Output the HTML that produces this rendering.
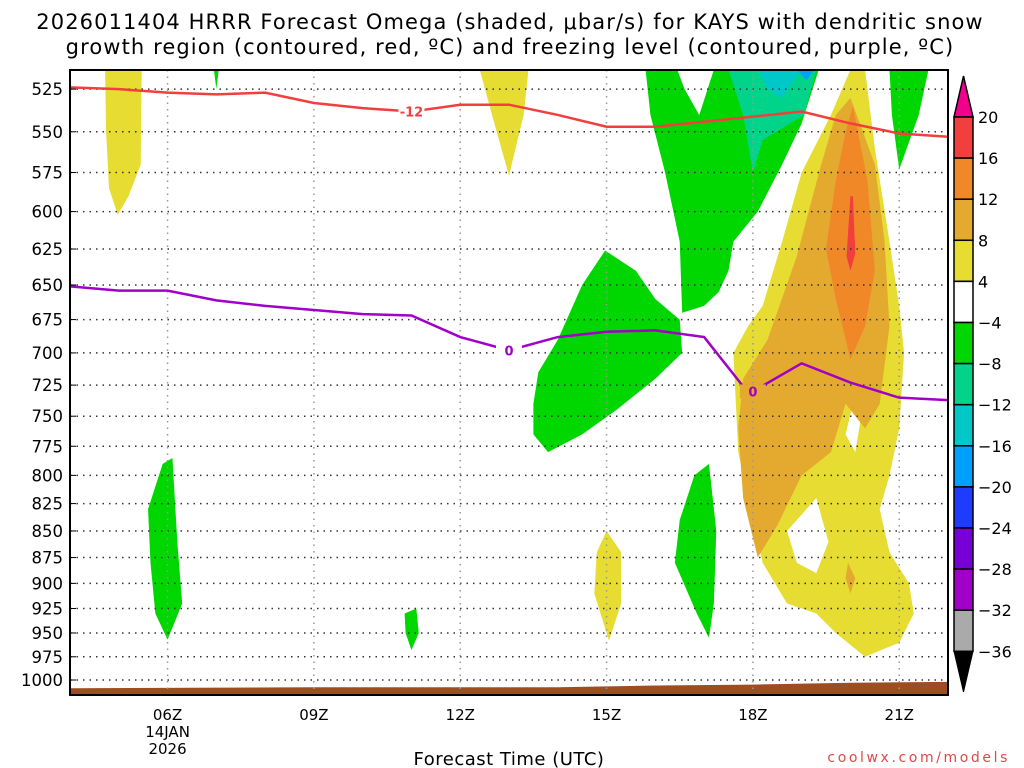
<!DOCTYPE html>
<html><head><meta charset="utf-8">
<style>
body{margin:0;background:#fff;width:1024px;height:768px;overflow:hidden}
svg{display:block;font-family:"DejaVu Sans","Liberation Sans",sans-serif}
</style></head><body>
<svg id="c" width="1024" height="768"></svg>
<script>
// ---- data ----
const pTicks=[525,550,575,600,625,650,675,700,725,750,775,800,825,850,875,900,925,950,975,1000];
const hourTicks=[6,9,12,15,18,21];
const hourLabels=["06Z","09Z","12Z","15Z","18Z","21Z"];
const lineHours=[4,5,6,7,8,9,10,11,12,13,14,15,16,17,18,19,20,21,22];
const redLineP=[524,525,527,528,527,533,536,538,534,534,540,547,547,544,541,538,545,551,553];
const purpleHours=[4,5,6,7,8,9,10,11,12,13,14,15,16,17,17.8,18,19,20,21,22];
const purpleLineP=[651,654,654,661,665,668,671,672,688,698,688,684,683,688,726,730,708,723,735,737];
const sfcHours=[4,9,14,16,18,20,22];
const sfcP=[1009,1008,1008,1006,1005,1003,1002];
const cbLevels=["20","16","12","8","4","-4","-8","-12","-16","-20","-24","-28","-32","-36"];
const cbColors=["#f33e3e","#f08828","#e4aa30","#e6dc32","#ffffff","#00d600","#00d38a","#00c8c8","#00a0ff","#1e3cff","#7800d6","#a000c8","#aaaaaa"];
// shaded regions: [color, name, [[hour,pressure],...]]
const blobs=[
["#e6dc32","yellow-top-left",[[4.72,514],[5.47,514],[5.45,570],[5.2,590],[4.98,602],[4.8,585],[4.74,550]]],
["#e6dc32","yellow-top-12z",[[12.4,514],[13.4,514],[13.3,540],[13.0,577],[12.7,545]]],
["#00d600","green-low-06z",[[5.6,830],[5.9,790],[6.1,785],[6.2,860],[6.3,920],[6.0,957],[5.75,930],[5.65,880]]],
["#00d600","green-small-11z",[[10.86,930],[11.1,925],[11.15,950],[11.0,968],[10.88,950]]],
["#00d600","green-tiny-07z",[[6.95,514],[7.05,514],[7.0,525]]],
["#00d600","green-top-17z",[[15.8,514],[19.35,514],[19.0,545],[18.6,570],[18.1,600],[17.6,620],[17.5,640],[17.3,655],[17.0,665],[16.55,670],[16.5,620],[16.2,575],[15.9,540]]],
["#ffffff","white-hole-17z",[[16.45,514],[17.2,514],[16.9,540],[16.6,525]]],
["#00d38a","teal-top",[[17.5,514],[19.3,514],[19.05,540],[18.2,555],[18.0,575],[17.8,540]]],
["#00c8c8","cyan-top",[[18.1,514],[19.0,514],[18.6,530],[18.3,525]]],
["#00a0ff","blue-top",[[18.9,514],[19.25,514],[19.1,520]]],
["#00d600","green-mid-14z",[[14.97,626],[15.6,640],[16.0,660],[16.5,675],[16.55,700],[16.0,720],[15.2,745],[14.5,765],[13.8,780],[13.5,765],[13.5,740],[13.6,715],[14.0,690],[14.5,650]]],
["#00d600","green-low-17z",[[16.8,800],[17.1,790],[17.25,850],[17.2,920],[17.1,955],[16.85,930],[16.4,880],[16.5,840]]],
["#e6dc32","yellow-low-15z",[[15.0,850],[15.3,870],[15.3,920],[15.05,958],[14.75,910],[14.8,870]]],
["#00d600","green-top-21z",[[20.8,514],[21.6,514],[21.4,540],[21.0,573],[20.85,540]]],
["#e6dc32","yellow-main",[[20.0,514],[20.3,514],[20.5,560],[20.8,620],[21.0,665],[21.1,700],[21.0,760],[20.8,800],[20.6,830],[20.8,870],[21.2,900],[21.3,930],[21.0,960],[20.3,975],[19.7,950],[19.3,930],[18.7,920],[18.2,880],[17.7,780],[17.6,700],[17.9,680],[18.2,665],[18.6,620],[19.0,575],[19.6,540]]],
["#ffffff","white-hole-low",[[18.7,850],[19.3,820],[19.55,860],[19.3,890],[18.9,880]]],
["#ffffff","white-hole-mid",[[20.05,740],[20.2,755],[20.1,780],[19.9,765]]],
["#e4aa30","light-orange-main",[[20.0,530],[20.5,570],[20.7,620],[20.8,680],[20.6,740],[20.3,760],[19.9,740],[19.6,780],[19.0,800],[18.5,845],[18.1,875],[17.8,820],[17.7,760],[17.8,720],[18.3,690],[18.9,630],[19.4,570],[19.7,540]]],
["#f08828","orange-core",[[20.05,535],[20.35,580],[20.5,640],[20.3,680],[20.0,705],[19.7,660],[19.5,625],[19.7,580],[19.9,550]]],
["#f33e3e","red-core",[[20.0,590],[20.05,590],[20.1,628],[20.0,640],[19.92,630]]],
["#e4aa30","light-orange-small",[[19.95,880],[20.1,895],[20.0,910],[19.9,895]]]
];
// ---- axes ----
const X0=70,X1=948,Y0=70,Y1=695,H0=4,H1=22;
const xs=h=>X0+(h-H0)*(X1-X0)/(H1-H0);
const ys=p=>680-917*Math.log(1000/p);
const NS="http://www.w3.org/2000/svg";
const svg=document.getElementById('c');
function mk(t,a,parent){const e=document.createElementNS(NS,t);for(const k in a)e.setAttribute(k,a[k]);(parent||svg).appendChild(e);return e;}
const defs=mk('defs',{});
const cp=mk('clipPath',{id:'pc'},defs);mk('rect',{x:X0,y:Y0,width:X1-X0,height:Y1-Y0},cp);
const g=mk('g',{'clip-path':'url(#pc)'});


blobs.forEach(b=>{
  const e=mk('polygon',{points:b[2].map(q=>xs(q[0])+','+ys(q[1])).join(' '),fill:b[0]},g);
  
  
});
let sp=sfcHours.map((h,i)=>xs(h)+','+ys(sfcP[i])).join(' ')+' '+X1+','+Y1+' '+X0+','+Y1;
const sfc=mk('polygon',{points:sp,fill:'#9c4e22'},g);


pTicks.forEach(p=>{
  const l=mk('line',{x1:X0,x2:X1,y1:ys(p),y2:ys(p),stroke:'#333','stroke-width':1.5,'stroke-dasharray':'1.5 5'},g);
  
  
});
hourTicks.forEach(h=>{
  const l=mk('line',{x1:xs(h),x2:xs(h),y1:Y0,y2:Y1,stroke:'#999','stroke-width':1.5,'stroke-dasharray':'1.5 5'},g);
  
  
});
const rl=mk('polyline',{points:lineHours.map((h,i)=>xs(h)+','+ys(redLineP[i])).join(' '),fill:'none',stroke:'#f33e3e','stroke-width':2.5},g);


const pl=mk('polyline',{points:purpleHours.map((h,i)=>xs(h)+','+ys(purpleLineP[i])).join(' '),fill:'none',stroke:'#a000c8','stroke-width':2.5},g);


function clabel(txt,h,p,col,name,bg){
  mk('rect',{x:xs(h)-13,y:ys(p)-7,width:26,height:14,fill:bg},g);
  const t=mk('text',{x:xs(h),y:ys(p)+5,'text-anchor':'middle','font-size':13,'font-weight':'bold',fill:col},g);
  t.textContent=txt;
  
  
}
clabel('-12',11,538,'#f33e3e','contour-label-minus12','#fff');
clabel('0',13,698,'#a000c8','contour-label-0-a','#fff');
clabel('0',18,730,'#a000c8','contour-label-0-b','#e4aa30');
const fr=mk('rect',{x:X0,y:Y0,width:X1-X0,height:Y1-Y0,fill:'none',stroke:'#000','stroke-width':2});


pTicks.forEach(p=>{
  const t=mk('text',{x:63,y:ys(p)+6,'text-anchor':'end','font-size':16.5});
  t.textContent=p;
  
  
  mk('line',{x1:X0,x2:X0+6,y1:ys(p),y2:ys(p),stroke:'#000'});
});
hourTicks.forEach((h,i)=>{
  const t=mk('text',{x:xs(h),y:720,'text-anchor':'middle','font-size':15});
  t.textContent=hourLabels[i];
  
  
});
[['14JAN',737],['2026',754]].forEach((a,i)=>{
  const t=mk('text',{x:xs(6),y:a[1],'text-anchor':'middle','font-size':15});
  t.textContent=a[0];
  
  
});
[['2026011404 HRRR Forecast Omega (shaded, \u03bcbar/s) for KAYS with dendritic snow',29],['growth region (contoured, red, \u00baC) and freezing level (contoured, purple, \u00baC)',54]].forEach((a,i)=>{
  const t=mk('text',{x:510,y:a[1],'text-anchor':'middle','font-size':21,'letter-spacing':1.1});
  t.textContent=a[0];
  
  
});
const xt=mk('text',{x:509,y:765,'text-anchor':'middle','font-size':18,'letter-spacing':0.5});
xt.textContent='Forecast Time (UTC)';


const wm=mk('text',{x:1010,y:762,'text-anchor':'end','font-size':14,fill:'#e04848','letter-spacing':2.6});
wm.textContent='coolwx.com/models';


const cbX=954,cbW=19,cbTop=117,cbStep=41.1;
const cb=mk('g',{});


mk('polygon',{points:`${cbX},${cbTop} ${cbX+cbW},${cbTop} ${cbX+cbW/2},76`,fill:'#f0008c',stroke:'#000','stroke-width':1.5},cb);
cbColors.forEach((c,i)=>{
  const r=mk('rect',{x:cbX,y:cbTop+i*cbStep,width:cbW,height:cbStep,fill:c,stroke:'#000','stroke-width':1.5},cb);
  
  
});
const cbBot=cbTop+cbColors.length*cbStep;
mk('polygon',{points:`${cbX},${cbBot} ${cbX+cbW},${cbBot} ${cbX+cbW/2},692`,fill:'#000',stroke:'#000'},cb);
cbLevels.forEach((l,i)=>{
  const t=mk('text',{x:978,y:cbTop+i*cbStep+6,'font-size':16},cb);
  t.textContent=l.replace('-','\u2212');
  
  
});
</script>
</body></html>
